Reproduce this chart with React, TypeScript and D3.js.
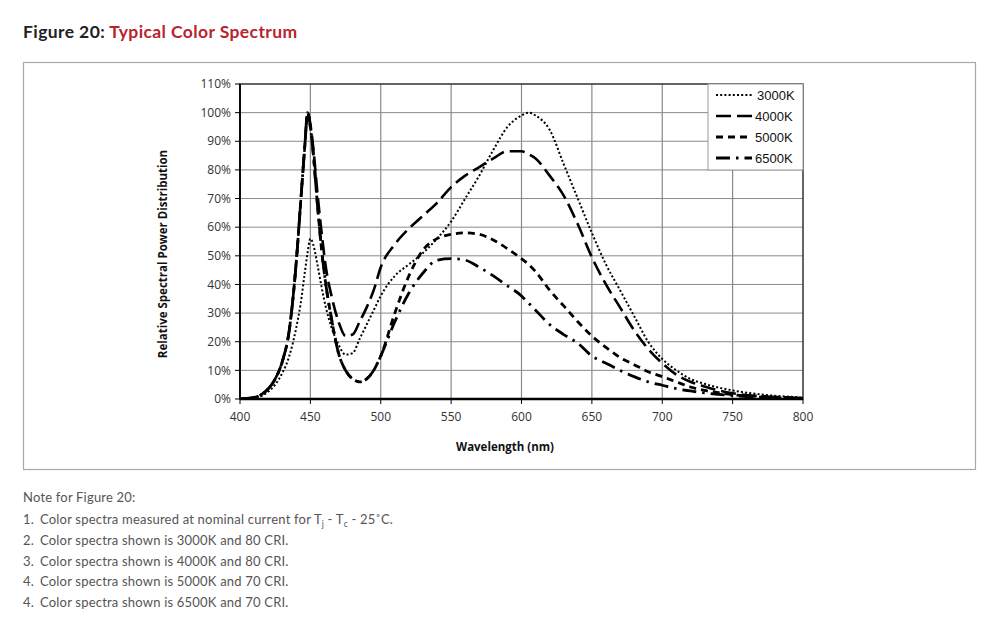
import React from "react";
import * as d3 from "d3";

// wavelength samples shared by every series (nm)
const wavelengths = [
  400, 405, 410, 415, 420, 425, 430, 435, 440, 443, 446, 448, 450, 452, 455, 458, 461, 465, 470, 475,
  480, 485, 490, 495, 500, 510, 520, 530, 540, 550, 560, 570, 580, 590, 600, 605, 610, 620, 630, 640,
  650, 660, 670, 680, 690, 700, 710, 720, 730, 740, 750, 760, 770, 780, 790, 800,
];

// relative spectral power (%)
const spd3000 = [
  0, 0, 0.3, 1, 2.5, 5, 9, 15, 25, 33, 44, 51, 56, 54, 47, 39, 32, 25, 19, 15.5,
  16, 21, 26, 31, 36, 43, 47, 51, 56, 62, 70, 78, 87, 95, 99, 100, 99, 94, 82, 70,
  58, 47, 38, 29, 20, 14, 10, 7, 5.3, 4, 3, 2.2, 1.6, 1.1, 0.8, 0.5,
];
const spd4000 = [
  0, 0.2, 0.5, 1.5, 3.5, 7, 13, 24, 48, 68, 88, 100, 96, 88, 72, 58, 46, 36, 27, 22,
  22.5, 27, 32, 38, 46, 54, 59.5, 64, 68.5, 74, 78, 81, 84, 86.5, 86.5, 85.5, 84, 78, 71, 61,
  49.5, 40, 32, 24, 17.5, 12.5, 8.5, 6, 4.4, 3, 2, 1.4, 1, 0.7, 0.5, 0.3,
];
const spd5000 = [
  0, 0.2, 0.5, 1.5, 3.5, 7, 13, 24, 48, 68, 88, 100, 95, 86, 68, 52, 40, 28, 16, 10,
  7, 6, 7, 10, 15, 30, 43, 52, 56, 57.5, 58, 57.5, 55.5, 52.5, 49, 47, 44.5, 38, 32.5, 27,
  22, 18, 14.5, 12, 9.5, 7.8, 6, 4.2, 3, 2.2, 1.5, 1.1, 0.8, 0.6, 0.4, 0.3,
];
const spd6500 = [
  0, 0.2, 0.5, 1.5, 3.5, 7, 13, 24, 48, 68, 88, 100, 95, 86, 68, 52, 40, 28, 16, 10,
  7, 6, 7, 10, 15, 27, 37, 44, 48.5, 49, 48.5, 46, 43, 39.5, 36, 33.5, 31, 26, 22.5, 19.5,
  15, 12.5, 10, 7.8, 6, 4.8, 3.6, 2.8, 2.1, 1.6, 1.2, 0.8, 0.6, 0.4, 0.3, 0.2,
];

const seriesNames = ["3000K", "4000K", "5000K", "6500K"];
const seriesValues = [spd3000, spd4000, spd5000, spd6500];

const xTicks = [400, 450, 500, 550, 600, 650, 700, 750, 800];
const yTicks = [0, 10, 20, 30, 40, 50, 60, 70, 80, 90, 100, 110];

const notes = [
  "Color spectra shown is 3000K and 80 CRI.",
  "Color spectra shown is 4000K and 80 CRI.",
  "Color spectra shown is 5000K and 70 CRI.",
  "Color spectra shown is 6500K and 70 CRI.",
];
const noteNumbers = ["2.", "3.", "4.", "4."];

const lineStyles = [
  { width: 2, dash: "2,2.2" },
  { width: 2.6, dash: "15,6" },
  { width: 2.8, dash: "7,5" },
  { width: 2.8, dash: "14,6,2.5,6" },
];

const W = 1000;
const H = 626;
const plot = { left: 240, right: 803, top: 84, bottom: 399 };

export default function App() {
  const x = d3.scaleLinear().domain([400, 800]).range([plot.left, plot.right]);
  const y = d3.scaleLinear().domain([0, 110]).range([plot.bottom, plot.top]);

  const line = d3
    .line<number>()
    .x((_, i) => x(wavelengths[i]))
    .y((d) => y(d))
    .curve(d3.curveMonotoneX);

  const tickFont = "'Open Sans', 'Noto Sans', sans-serif";
  const headFont = "Lato, 'Open Sans', sans-serif";
  const legendFont = "'Liberation Sans', Arial, sans-serif";

  const legend = { x: 708, y: 84, w: 95, h: 86 };

  return (
    <svg
      width={W}
      height={H}
      style={{ position: "absolute", left: 0, top: 0, background: "#fff" }}
    >
      <text x={23} y={38} fontFamily={headFont} fontWeight={700} fontSize={17.5} letterSpacing={0.4}>
        <tspan fill="#222">Figure 20: </tspan>
        <tspan fill="#b8232f">Typical Color Spectrum</tspan>
      </text>

      {/* outer frame */}
      <rect x={23.5} y={62.5} width={952} height={407} fill="#fff" stroke="#a8a8a8" strokeWidth={1.2} />

      <clipPath id="plot-clip">
        <rect x={plot.left} y={plot.top} width={plot.right - plot.left} height={plot.bottom - plot.top} />
      </clipPath>

      {/* grid */}
      {yTicks.slice(1, -1).map((t) => (
        <line key={`gy${t}`} x1={plot.left} x2={plot.right} y1={y(t)} y2={y(t)} stroke="#8a8a8a" strokeWidth={1} />
      ))}
      {xTicks.slice(1, -1).map((t) => (
        <line key={`gx${t}`} x1={x(t)} x2={x(t)} y1={plot.top} y2={plot.bottom} stroke="#8a8a8a" strokeWidth={1.2} />
      ))}

      {/* plot border */}
      <rect
        x={plot.left}
        y={plot.top}
        width={plot.right - plot.left}
        height={plot.bottom - plot.top}
        fill="none"
        stroke="#333"
        strokeWidth={1.5}
      />
      <line x1={plot.left} x2={plot.right} y1={plot.bottom} y2={plot.bottom} stroke="#000" strokeWidth={2.5} />
      <line x1={plot.left} x2={plot.left} y1={plot.top} y2={plot.bottom} stroke="#000" strokeWidth={1.8} />

      {/* tick marks and labels */}
      {yTicks.map((t) => (
        <g key={`ty${t}`}>
          <line x1={plot.left - 5} x2={plot.left} y1={y(t)} y2={y(t)} stroke="#000" strokeWidth={1} />
          <text
            x={plot.left - 9}
            y={y(t)}
            dy="0.35em"
            textAnchor="end"
            fontFamily={tickFont}
            fontSize={12}
            fill="#333"
          >
            {t}%
          </text>
        </g>
      ))}
      {xTicks.map((t) => (
        <g key={`tx${t}`}>
          <line x1={x(t)} x2={x(t)} y1={plot.bottom} y2={plot.bottom + 5} stroke="#000" strokeWidth={1} />
          <text
            x={x(t)}
            y={plot.bottom + 22}
            textAnchor="middle"
            fontFamily={tickFont}
            fontSize={12}
            fill="#333"
          >
            {t}
          </text>
        </g>
      ))}

      <text
        x={505}
        y={451}
        textAnchor="middle"
        fontFamily={tickFont}
        fontWeight={700}
        fontSize={11.5}
        fill="#111"
      >
        Wavelength (nm)
      </text>
      <text
        transform={`translate(167, 254) rotate(-90)`}
        textAnchor="middle"
        fontFamily={tickFont}
        fontWeight={700}
        fontSize={11.5}
        fill="#111"
      >
        Relative Spectral Power Distribution
      </text>

      {/* spectra */}
      <g clipPath="url(#plot-clip)">
        {seriesValues.map((vals, i) => (
          <path
            key={seriesNames[i]}
            d={line(vals) ?? ""}
            fill="none"
            stroke="#000"
            strokeWidth={lineStyles[i].width}
            strokeDasharray={lineStyles[i].dash}
          />
        ))}
      </g>

      {/* legend */}
      <rect x={legend.x} y={legend.y} width={legend.w} height={legend.h} fill="#fff" stroke="#9a9a9a" strokeWidth={1} />
      {seriesNames.map((name, i) => {
        const ly = legend.y + 11 + i * 21;
        return (
          <g key={`lg${name}`}>
            <line
              x1={716}
              x2={752}
              y1={ly}
              y2={ly}
              stroke="#000"
              strokeWidth={lineStyles[i].width}
              strokeDasharray={lineStyles[i].dash}
            />
            <text x={i === 0 ? 757 : 755} y={ly} dy="0.36em" fontFamily={legendFont} fontSize={13} fill="#111">
              {name}
            </text>
          </g>
        );
      })}

      {/* notes */}
      <g fontFamily={headFont} fontSize={13} letterSpacing={0.2} fill="#555">
        <text x={23} y={502}>Note for Figure 20:</text>
        <text x={23} y={524}>1.</text>
        <text x={40} y={524}>
          Color spectra measured at nominal current for T
          <tspan fontSize={8.5} dy={3}>j</tspan>
          <tspan dy={-3}> - T</tspan>
          <tspan fontSize={8.5} dy={3}>c</tspan>
          <tspan dy={-3}> - 25˚C.</tspan>
        </text>
        {notes.map((n, i) => (
          <g key={`note${i}`}>
            <text x={23} y={545 + i * 20.7}>{noteNumbers[i]}</text>
            <text x={40} y={545 + i * 20.7}>{n}</text>
          </g>
        ))}
      </g>
    </svg>
  );
}
